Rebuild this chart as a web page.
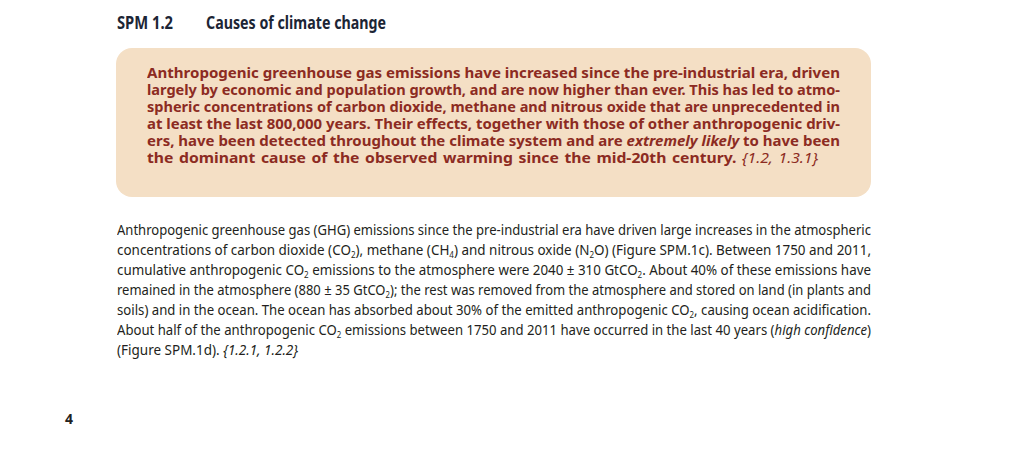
<!DOCTYPE html>
<html>
<head>
<meta charset="utf-8">
<script src="https://cdn.jsdelivr.net/npm/chart.js@4"></script>
<style>
  html, body { margin: 0; padding: 0; background: #fff; }
  body { width: 1024px; height: 463px; position: relative; overflow: hidden;
         font-family: "Noto Sans", "Open Sans", sans-serif; }
  .head { position: absolute; top: 11px; font-size: 17px; font-weight: bold; color: #1c2535;
          white-space: nowrap; transform-origin: 0 50%; }
  #box { position: absolute; left: 116px; top: 48px; width: 755px; height: 149px;
         background: #f4dfc5; border-radius: 16px; }
  #boxText { position: absolute; left: 147px; top: 64px; width: 693px;
             font-size: 15px; line-height: 17px; font-weight: bold; color: #8c2b22; }
  #bodyText { position: absolute; left: 117px; top: 219px; width: 754px;
              font-size: 15px; line-height: 20px; color: #231f20; }
  .ln { white-space: nowrap; height: 17px; }
  #bodyText .ln { height: 20px; }
  .ln span { display: inline-block; transform-origin: 0 50%; }
  sub { font-size: 9px; vertical-align: -3px; line-height: 0; }
  #page { position: absolute; left: 65px; top: 409px; font-size: 14px; font-weight: bold; color: #222; }
</style>
</head>
<body>
<div class="head" id="h1" style="left:117px">SPM 1.2</div>
<div class="head" id="h2" style="left:206px">Causes of climate change</div>
<div id="box"></div>
<div id="boxText"></div>
<div id="bodyText"></div>
<div id="page">4</div>
<script>
// text lines, kept as they break in the original page
const boxLines = [
  'Anthropogenic greenhouse gas emissions have increased since the pre-industrial era, driven',
  'largely by economic and population growth, and are now higher than ever. This has led to atmo-',
  'spheric concentrations of carbon dioxide, methane and nitrous oxide that are unprecedented in',
  'at least the last 800,000 years. Their effects, together with those of other anthropogenic driv-',
  'ers, have been detected throughout the climate system and are <i>extremely likely</i> to have been',
  'the dominant cause of the observed warming since the mid-20th century. <i style="font-weight:normal">{1.2, 1.3.1}</i>'
];

const bodyLines = [
  'Anthropogenic greenhouse gas (GHG) emissions since the pre-industrial era have driven large increases in the atmospheric',
  'concentrations of carbon dioxide (CO<sub>2</sub>), methane (CH<sub>4</sub>) and nitrous oxide (N<sub>2</sub>O) (Figure SPM.1c). Between 1750 and 2011,',
  'cumulative anthropogenic CO<sub>2</sub> emissions to the atmosphere were 2040 ± 310 GtCO<sub>2</sub>. About 40% of these emissions have',
  'remained in the atmosphere (880 ± 35 GtCO<sub>2</sub>); the rest was removed from the atmosphere and stored on land (in plants and',
  'soils) and in the ocean. The ocean has absorbed about 30% of the emitted anthropogenic CO<sub>2</sub>, causing ocean acidification.',
  'About half of the anthropogenic CO<sub>2</sub> emissions between 1750 and 2011 have occurred in the last 40 years (<i>high confidence</i>)',
  '(Figure SPM.1d). <i>{1.2.1, 1.2.2}</i>'
];

// squeeze each line a little (within 8% of the tightest one), then
// justify by widening the word gaps; last line ends where the original does
function fill(el, lines, width, lastWidth) {
  el.innerHTML = lines.map(t => `<div class="ln"><span>${t}</span></div>`).join('');
  const spans = [...el.querySelectorAll('span')];
  const widths = spans.map(s => s.getBoundingClientRect().width);
  const kMin = Math.min(...widths.slice(0, -1).map(w => width / w));
  spans.forEach((s, i) => {
    const target = i === spans.length - 1 ? lastWidth : width;
    const k = Math.min(target / widths[i], kMin * 1.08);
    s.style.transform = `scaleX(${k})`;
    const gaps = (s.textContent.match(/ /g) || []).length;
    const extra = (target - widths[i] * k) / k / gaps;
    if (extra > 0) s.style.wordSpacing = extra + 'px';
  });
}
fill(document.getElementById('boxText'), boxLines, 693, 671);
fill(document.getElementById('bodyText'), bodyLines, 754, 181);

function fitHead(id, width) {
  const el = document.getElementById(id);
  el.style.transform = `scaleX(${width / el.getBoundingClientRect().width})`;
}
fitHead('h1', 56);
fitHead('h2', 180);
</script>
</body>
</html>
